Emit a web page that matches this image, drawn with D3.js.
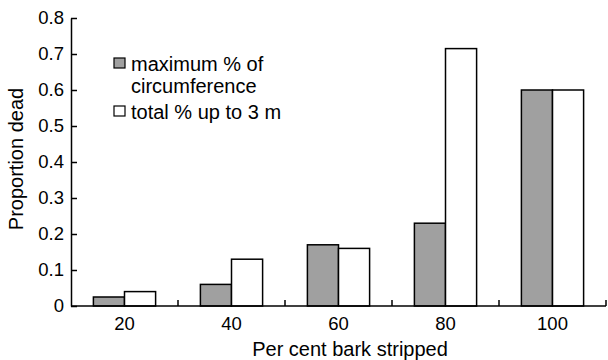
<!DOCTYPE html>
<html>
<head>
<meta charset="utf-8">
<script src="https://cdn.jsdelivr.net/npm/d3@7/dist/d3.min.js"></script>
<style>
  html, body { margin: 0; padding: 0; background: #fff; }
  svg { display: block; }
  text { font-family: "Liberation Sans", Arial, Helvetica, sans-serif; fill: #000; }
</style>
</head>
<body>
<svg id="chart" width="608" height="360"></svg>
<script>
// Per cent of bark stripped (x categories)
const categories = ["20", "40", "60", "80", "100"];
// Series names, as shown in the legend
const seriesNames = ["maximum % of circumference", "total % up to 3 m"];
// Proportion of trees dead for each stripping measure
const maxCircumference = [0.025, 0.06, 0.17, 0.23, 0.60];
const totalUpTo3m = [0.04, 0.13, 0.16, 0.715, 0.60];
// Y axis ticks
const yTicks = [0, 0.1, 0.2, 0.3, 0.4, 0.5, 0.6, 0.7, 0.8];

const seriesValues = [maxCircumference, totalUpTo3m];
const fills = ["#a0a0a0", "#ffffff"];

const svg = d3.select("#chart");
const plotLeft = 71, plotRight = 606, plotTop = 18, plotBottom = 306;
const tickFont = 18.5;
const textFont = 20;

const y = d3.scaleLinear().domain([0, 0.8]).range([plotBottom, plotTop]);
const x0 = d3.scaleBand().domain(categories).range([plotLeft, plotRight]).padding(0);
const x1 = d3.scaleBand().domain([0, 1]).range([0, x0.bandwidth()])
  .paddingInner(0).paddingOuter(0.72);

// Bars
const groups = svg.append("g").selectAll("g")
  .data(categories)
  .join("g")
  .attr("transform", d => `translate(${x0(d)},0)`);

groups.selectAll("rect")
  .data((d, i) => seriesValues.map((vals, s) => ({ s, v: vals[i] })))
  .join("rect")
  .attr("x", d => x1(d.s))
  .attr("width", x1.bandwidth())
  .attr("y", d => y(d.v))
  .attr("height", d => y(0) - y(d.v))
  .attr("fill", d => fills[d.s])
  .attr("stroke", "#000")
  .attr("stroke-width", 1.5);

// Y axis with inward ticks
const yAxis = d3.axisLeft(y)
  .tickValues(yTicks)
  .tickSizeInner(-6)
  .tickSizeOuter(0)
  .tickPadding(7)
  .tickFormat(d => d === 0 ? "0" : d3.format(".1f")(d));

const yg = svg.append("g")
  .attr("transform", `translate(${plotLeft},0)`)
  .call(yAxis);
yg.select(".domain").attr("stroke-width", 1.5);
yg.selectAll(".tick line").attr("stroke-width", 1.5);
yg.selectAll("text").style("font-size", tickFont + "px")
  .style("font-family", "'Liberation Sans', Arial, sans-serif");

// X axis: labels at band centres, separator ticks at band edges
const xAxis = d3.axisBottom(x0).tickSize(0).tickPadding(11);
const xg = svg.append("g")
  .attr("transform", `translate(0,${plotBottom})`)
  .call(xAxis);
xg.select(".domain").remove();
xg.selectAll("text").style("font-size", tickFont + "px")
  .style("font-family", "'Liberation Sans', Arial, sans-serif");

svg.append("line")
  .attr("x1", plotLeft).attr("x2", plotRight)
  .attr("y1", plotBottom).attr("y2", plotBottom)
  .attr("stroke", "#000").attr("stroke-width", 1.5);

svg.append("g").selectAll("line")
  .data(categories)
  .join("line")
  .attr("x1", d => x0(d) + x0.bandwidth())
  .attr("x2", d => x0(d) + x0.bandwidth())
  .attr("y1", plotBottom)
  .attr("y2", plotBottom - 6)
  .attr("stroke", "#000").attr("stroke-width", 1.5);

// Axis titles
svg.append("text")
  .attr("x", 350)
  .attr("y", 356)
  .attr("text-anchor", "middle")
  .style("font-size", textFont + "px")
  .text("Per cent bark stripped");

svg.append("text")
  .attr("transform", "translate(23,159) rotate(-90)")
  .attr("text-anchor", "middle")
  .style("font-size", textFont + "px")
  .text("Proportion dead");

// Legend
const legend = svg.append("g").attr("transform", "translate(114,58)");
const legendLines = [["maximum % of", "circumference"], ["total % up to 3 m"]];
const rowOffsets = [0, 48];
legendLines.forEach((lines, i) => {
  legend.append("rect")
    .attr("x", 0).attr("y", rowOffsets[i])
    .attr("width", 11).attr("height", 10)
    .attr("fill", fills[i])
    .attr("stroke", "#000").attr("stroke-width", 1.2);
  lines.forEach((ln, j) => {
    legend.append("text")
      .attr("x", 17)
      .attr("y", rowOffsets[i] + 12.5 + j * 22)
      .style("font-size", textFont + "px")
      .text(ln);
  });
});
</script>
</body>
</html>
